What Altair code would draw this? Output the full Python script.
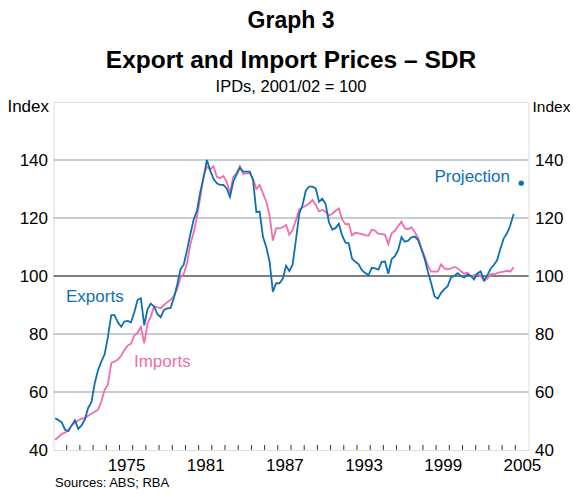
import altair as alt
import pandas as pd

# Quarterly observations, first quarter centred at 1970.125
exports = [50.9, 50.3, 49.5, 47.0, 46.5, 48.5, 50.3, 47.3, 48.5, 50.5,
           54.5, 56.5, 63.0, 67.5, 70.5, 73.0, 79.0, 86.5, 86.5, 84.0,
           82.5, 84.3, 84.5, 84.0, 87.5, 91.8, 92.3, 83.0, 88.5, 90.5,
           89.5, 86.8, 85.8, 88.3, 88.8, 89.0, 92.5, 97.0, 102.3, 104.0,
           109.0, 114.5, 119.5, 122.5, 129.0, 134.0, 140.0, 136.5, 133.5, 132.0,
           131.4, 131.4, 130.2, 127.3, 132.5, 135.0, 137.3, 136.0, 136.0, 136.0,
           133.0, 122.0, 122.2, 113.5, 110.0, 105.0, 94.6, 97.5, 97.5, 99.0,
           103.5, 101.7, 104.0, 112.5, 121.5, 124.5, 129.5, 130.8, 130.8, 130.2,
           125.6, 126.7, 124.8, 118.5, 116.0, 116.5, 118.0, 114.0, 111.5, 111.3,
           106.0, 104.9, 104.0, 102.0, 101.0, 100.3, 102.8, 102.6, 102.2, 104.9,
           105.0, 100.8, 105.8, 106.8, 109.0, 113.4, 111.8, 112.2, 113.3, 113.6,
           112.5, 109.3, 106.0, 101.5, 97.5, 93.0, 92.2, 94.2, 95.5, 96.5,
           99.5, 100.0, 101.0, 100.0, 99.5, 100.5, 100.0, 98.8, 100.9, 101.6,
           98.6, 100.2, 102.5, 103.8, 105.5, 109.5, 113.0, 114.7, 117.6, 121.4]

imports = [43.5, 44.5, 45.5, 46.0, 46.9, 48.5, 49.3, 50.2, 50.8, 51.0,
           51.8, 52.5, 53.2, 53.8, 56.7, 60.7, 62.5, 70.0, 70.5, 71.2,
           72.5, 74.5, 76.0, 76.7, 79.5, 80.5, 82.5, 76.8, 83.7, 86.0,
           89.5, 89.2, 88.9, 90.0, 91.0, 91.8, 93.0, 95.5, 99.5, 100.8,
           104.5, 111.0, 115.0, 120.5, 127.0, 134.5, 137.7, 136.8, 137.8, 134.2,
           133.7, 134.5, 132.5, 128.7, 134.2, 135.5, 137.9, 135.2, 135.4, 135.4,
           133.5, 130.0, 131.4, 128.5, 125.6, 121.0, 112.2, 116.5, 116.4, 116.8,
           117.6, 114.2, 115.9, 119.3, 123.0, 123.6, 124.2, 125.0, 126.2, 124.5,
           122.3, 122.8, 122.2, 120.8, 121.5, 122.5, 123.3, 119.5, 117.8, 118.0,
           114.0, 114.9, 114.7, 114.4, 114.1, 113.9, 116.0, 115.6, 114.5, 114.5,
           114.2, 111.0, 114.7, 115.6, 117.3, 118.7, 116.4, 116.1, 116.8, 115.2,
           113.2, 109.8, 106.8, 103.6, 101.5, 101.5, 101.5, 104.0, 102.6, 102.3,
           102.6, 103.1, 102.7, 101.6, 100.8, 101.1, 100.0, 100.3, 100.7, 100.1,
           98.3, 99.0, 100.6, 100.6, 101.0, 101.3, 101.5, 101.8, 101.5, 103.0]

projection_year = [2005.45]
projection_value = [132.0]

year_labels = [1975, 1981, 1987, 1993, 1999, 2005]
y_ticks = [40, 60, 80, 100, 120, 140]
grid_vals = [60, 80, 100, 120, 140]
tick_years = list(range(1971, 2006))

label_text = ["Exports", "Imports", "Projection"]
label_year = [1970.95, 1976.1, 2004.6]
label_value = [92.8, 70.3, 134.1]
label_color = ["#0f6fb5", "#f06eaa", "#0f6fb5"]
label_align = ["left", "left", "right"]

title_text = "Graph 3"
title_line2 = "Export and Import Prices – SDR"
subtitle_text = "IPDs, 2001/02 = 100"
source_text = "Sources: ABS; RBA"

BLUE = "#0f6fb5"
PINK = "#f06eaa"
FONT = "Liberation Sans"
W, H = 475, 348

n = len(exports)
t = [1970.125 + 0.25 * i for i in range(n)]
df = pd.DataFrame({
    "t": t + t,
    "v": exports + imports,
    "s": ["Exports"] * n + ["Imports"] * n,
})

xscale = alt.Scale(domain=[1970, 2006], nice=False, zero=False)
yscale = alt.Scale(domain=[40, 160], nice=False, zero=False)

x_axis = alt.Axis(values=[y + 0.5 for y in year_labels], labelExpr="floor(datum.value)",
                  ticks=False, domain=False, grid=False, labelFont=FONT, labelFontSize=17,
                  labelColor="black", labelPadding=7, labelFlush=False,
                  title=source_text, titleFont=FONT, titleFontSize=13,
                  titleFontWeight="normal", titleColor="black", titleX=1, titleY=36,
                  titleAlign="left", titleAnchor="start", titleBaseline="alphabetic")

lines = alt.Chart(df).mark_line(strokeWidth=1.8).encode(
    x=alt.X("t:Q", scale=xscale, axis=x_axis),
    y=alt.Y("v:Q", scale=yscale,
            axis=alt.Axis(orient="left", values=y_ticks, ticks=False, domain=False, grid=False,
                          labelFont=FONT, labelFontSize=17, labelColor="black", labelPadding=6,
                          title="Index", titleAngle=0, titleFont=FONT, titleFontSize=17,
                          titleFontWeight="normal", titleColor="black", titleX=-5, titleY=4,
                          titleAlign="right", titleBaseline="middle")),
    color=alt.Color("s:N", scale=alt.Scale(domain=["Exports", "Imports"], range=[BLUE, PINK]),
                    legend=None),
    order=alt.Order("t:Q"),
)

lines_imp = lines.transform_filter(alt.datum.s == "Imports")
lines_exp = lines.transform_filter(alt.datum.s == "Exports")

ticks = alt.Chart(pd.DataFrame({"yr": tick_years})).mark_rule(color="#333333", strokeWidth=1).encode(
    x=alt.X("yr:Q", scale=xscale),
    y=alt.value(H),
    y2=alt.value(H - 5),
)

lab_df = pd.DataFrame({"txt": label_text, "x": label_year, "y": label_value,
                       "c": label_color, "a": label_align})
lab_left = alt.Chart(lab_df).transform_filter(alt.datum.a == "left").mark_text(
    font=FONT, fontSize=17, align="left", baseline="middle").encode(
    x=alt.X("x:Q", scale=xscale), y=alt.Y("y:Q", scale=yscale),
    text="txt:N", color=alt.Color("c:N", scale=None))
lab_right = alt.Chart(lab_df).transform_filter(alt.datum.a == "right").mark_text(
    font=FONT, fontSize=17, align="right", baseline="middle").encode(
    x=alt.X("x:Q", scale=xscale), y=alt.Y("y:Q", scale=yscale),
    text="txt:N", color=alt.Color("c:N", scale=None))

proj = alt.Chart(pd.DataFrame({"x": projection_year, "y": projection_value})).mark_circle(
    size=28, color=BLUE, opacity=1).encode(
    x=alt.X("x:Q", scale=xscale), y=alt.Y("y:Q", scale=yscale))

sub = alt.Chart(pd.DataFrame({"s": [subtitle_text]})).mark_text(
    font=FONT, fontSize=16.5, align="center", baseline="alphabetic", color="black").encode(
    text="s:N", x=alt.value(W / 2), y=alt.value(-10))

inner = alt.layer(lines_imp, lines_exp, ticks, lab_left, lab_right, proj, sub)

grid = alt.Chart(pd.DataFrame({"g": grid_vals})).mark_rule().encode(
    y=alt.Y("g:Q", scale=yscale,
            axis=alt.Axis(orient="right", values=y_ticks, ticks=False, domain=False, grid=False,
                          labelFont=FONT, labelFontSize=17, labelColor="black", labelPadding=6,
                          title="Index", titleAngle=0, titleFont=FONT, titleFontSize=15.5,
                          titleFontWeight="normal", titleColor="black", titleX=3.5, titleY=4,
                          titleAlign="left", titleBaseline="middle")),
    x=alt.value(0), x2=alt.value(W),
    color=alt.condition(alt.datum.g == 100, alt.value("black"), alt.value("#c8ccd1")),
    strokeWidth=alt.condition(alt.datum.g == 100, alt.value(1), alt.value(1.8)),
)

chart = alt.layer(grid, inner).resolve_scale(y="independent").properties(
    width=W, height=H,
    autosize=alt.AutoSizeParams(type="none"),
    padding={"left": 45.5, "top": 94, "right": 41.5, "bottom": 39},
    title=alt.TitleParams(
        text=title_text,
        subtitle=title_line2,
        font=FONT, fontSize=23, fontWeight="bold", color="black",
        subtitleFont=FONT, subtitleFontSize=24.5, subtitleFontWeight="bold",
        subtitleColor="black", subtitlePadding=16,
        anchor="middle", frame="group", offset=7,
    ),
).configure_view(stroke="#333333", strokeWidth=1).configure(background="white")

chart.save("out.html", embed_options={"renderer": "svg", "actions": False})
